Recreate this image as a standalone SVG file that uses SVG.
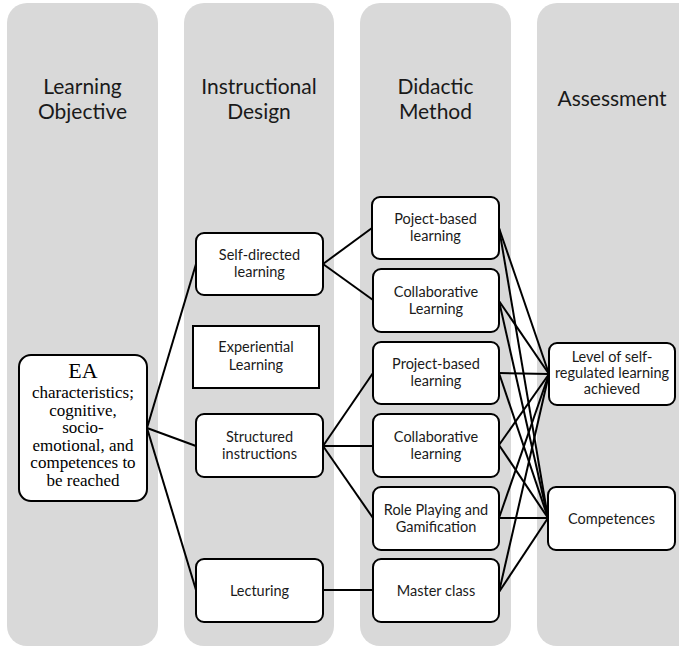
<svg xmlns="http://www.w3.org/2000/svg" width="679" height="648" viewBox="0 0 679 648">
  <style>
    .lane { fill: #d9d9d9; }
    .head { font-family: Lato, "Open Sans", sans-serif; font-size: 21px; fill: #1a1a1a; text-anchor: middle; }
    .box { fill: #ffffff; stroke: #000000; stroke-width: 2; }
    .lbl { font-family: Lato, "Open Sans", sans-serif; font-size: 14.5px; fill: #1a1a1a; text-anchor: middle; }
    .serif { font-family: "Liberation Serif", "Times New Roman", serif; fill: #000000; text-anchor: middle; font-size: 17px; }
    .serif.big { font-size: 22px; }
    .link { stroke: #000000; stroke-width: 2; fill: none; }
  </style>

  <!-- column lanes -->
  <g id="lanes">
    <rect class="lane" x="7" y="3" width="151" height="643" rx="20"/>
    <rect class="lane" x="184" y="3" width="150" height="643" rx="20"/>
    <rect class="lane" x="360" y="3" width="151" height="643" rx="20"/>
    <rect class="lane" x="537" y="3" width="160" height="643" rx="20"/>
    <text class="head" x="82.5" y="94">Learning</text>
    <text class="head" x="82.5" y="119">Objective</text>
    <text class="head" x="259" y="94">Instructional</text>
    <text class="head" x="259" y="119">Design</text>
    <text class="head" x="435.5" y="94">Didactic</text>
    <text class="head" x="435.5" y="119">Method</text>
    <text class="head" x="612" y="106">Assessment</text>
  </g>

  <!-- connectors -->
  <g id="connectors">
    <!-- objective to design -->
    <line class="link" x1="147" y1="428" x2="196" y2="264"/>
    <line class="link" x1="147" y1="428" x2="196" y2="446"/>
    <line class="link" x1="147" y1="428" x2="196" y2="590"/>
    <!-- design to method -->
    <line class="link" x1="323" y1="264" x2="372" y2="228"/>
    <line class="link" x1="323" y1="264" x2="373" y2="300"/>
    <line class="link" x1="323" y1="446" x2="373" y2="373"/>
    <line class="link" x1="323" y1="446" x2="373" y2="446"/>
    <line class="link" x1="323" y1="446" x2="373" y2="518"/>
    <line class="link" x1="323" y1="590" x2="373" y2="590"/>
    <!-- method to assessment -->
    <line class="link" x1="499" y1="228" x2="549" y2="374"/>
    <line class="link" x1="499" y1="228" x2="548" y2="518"/>
    <line class="link" x1="499" y1="301" x2="549" y2="374"/>
    <line class="link" x1="499" y1="301" x2="548" y2="518"/>
    <line class="link" x1="499" y1="373" x2="549" y2="374"/>
    <line class="link" x1="499" y1="373" x2="548" y2="518"/>
    <line class="link" x1="499" y1="445" x2="549" y2="374"/>
    <line class="link" x1="499" y1="445" x2="548" y2="518"/>
    <line class="link" x1="499" y1="518" x2="549" y2="374"/>
    <line class="link" x1="499" y1="518" x2="548" y2="518"/>
    <line class="link" x1="499" y1="592" x2="549" y2="374"/>
    <line class="link" x1="499" y1="592" x2="548" y2="518"/>
  </g>

  <!-- learning objective -->
  <g id="ea-characteristics">
    <rect class="box" x="19" y="355" width="128" height="146" rx="12"/>
    <text class="serif big" x="83" y="378">EA</text>
    <text class="serif" x="83" y="398">characteristics;</text>
    <text class="serif" x="83" y="415.5">cognitive,</text>
    <text class="serif" x="83" y="433">socio-</text>
    <text class="serif" x="83" y="450.5">emotional, and</text>
    <text class="serif" x="83" y="468">competences to</text>
    <text class="serif" x="83" y="485.5">be reached</text>
  </g>

  <!-- instructional design -->
  <g id="self-directed">
    <rect class="box" x="196" y="233" width="127" height="62" rx="8"/>
    <text class="lbl" x="259.5" y="260">Self-directed</text>
    <text class="lbl" x="259.5" y="277">learning</text>
  </g>
  <g id="experiential">
    <rect class="box" x="193" y="326" width="126" height="62"/>
    <text class="lbl" x="256" y="352">Experiential</text>
    <text class="lbl" x="256" y="370">Learning</text>
  </g>
  <g id="structured">
    <rect class="box" x="196" y="414" width="127" height="63" rx="8"/>
    <text class="lbl" x="259.5" y="441.5">Structured</text>
    <text class="lbl" x="259.5" y="458.5">instructions</text>
  </g>
  <g id="lecturing">
    <rect class="box" x="196" y="559" width="127" height="63" rx="8"/>
    <text class="lbl" x="259.5" y="595.5">Lecturing</text>
  </g>

  <!-- didactic method -->
  <g id="project-based-1">
    <rect class="box" x="372" y="197" width="127" height="62" rx="8"/>
    <text class="lbl" x="435.5" y="224">Poject-based</text>
    <text class="lbl" x="435.5" y="241">learning</text>
  </g>
  <g id="collaborative-1">
    <rect class="box" x="373" y="269" width="126" height="63" rx="8"/>
    <text class="lbl" x="436" y="297">Collaborative</text>
    <text class="lbl" x="436" y="314">Learning</text>
  </g>
  <g id="project-based-2">
    <rect class="box" x="373" y="342" width="126" height="62" rx="8"/>
    <text class="lbl" x="436" y="369">Project-based</text>
    <text class="lbl" x="436" y="386">learning</text>
  </g>
  <g id="collaborative-2">
    <rect class="box" x="373" y="414" width="126" height="63" rx="8"/>
    <text class="lbl" x="436" y="441.5">Collaborative</text>
    <text class="lbl" x="436" y="458.5">learning</text>
  </g>
  <g id="role-playing">
    <rect class="box" x="373" y="487" width="126" height="63" rx="8"/>
    <text class="lbl" x="436" y="514.5">Role Playing and</text>
    <text class="lbl" x="436" y="531.5">Gamification</text>
  </g>
  <g id="master-class">
    <rect class="box" x="373" y="559" width="126" height="63" rx="8"/>
    <text class="lbl" x="436" y="595.5">Master class</text>
  </g>

  <!-- assessment -->
  <g id="self-regulation">
    <rect class="box" x="549" y="343" width="126" height="62" rx="8"/>
    <text class="lbl" x="612" y="362">Level of self-</text>
    <text class="lbl" x="612" y="378">regulated learning</text>
    <text class="lbl" x="612" y="394">achieved</text>
  </g>
  <g id="competences">
    <rect class="box" x="548" y="487" width="127" height="63" rx="8"/>
    <text class="lbl" x="611.5" y="523.5">Competences</text>
  </g>
</svg>
